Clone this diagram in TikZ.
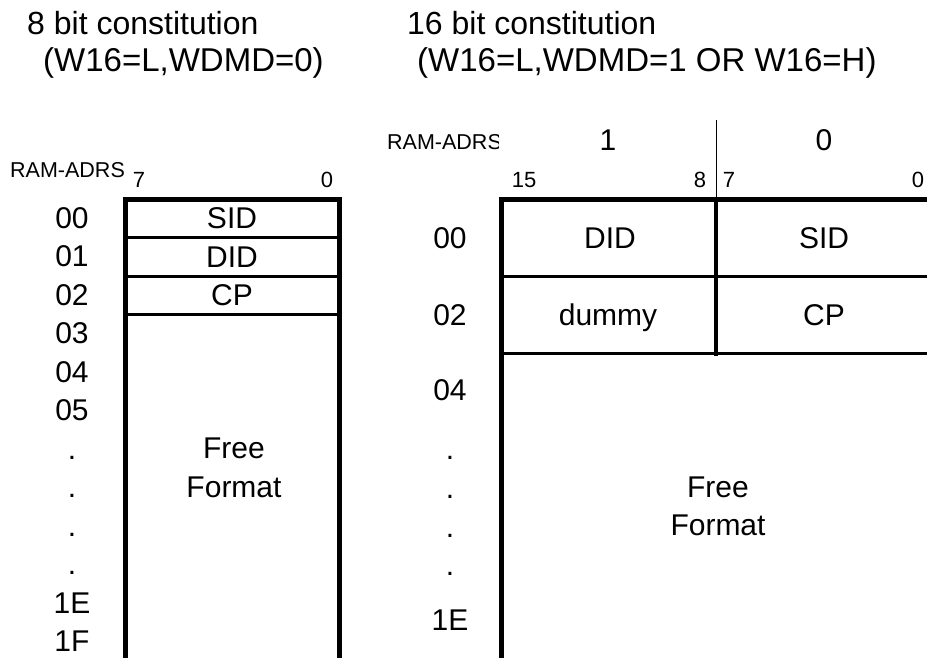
\documentclass[tikz,border=0pt]{standalone}
\usepackage{fontspec}
\setmainfont{Liberation Sans}
\usetikzlibrary{positioning}

\begin{document}
\begin{tikzpicture}[x=1pt, y=-1pt,
    title/.style={anchor=base west, inner sep=0pt, text depth=0pt, font=\fontsize{32}{38}\selectfont},
    subtitle/.style={anchor=base west, inner sep=0pt, text height=24pt, font=\fontsize{33}{38}\selectfont},
    adrs/.style={anchor=base, inner sep=0pt, font=\fontsize{30}{36}\selectfont},
    cell/.style={anchor=base, inner sep=0pt, font=\fontsize{30}{36}\selectfont},
    bitno/.style={anchor=base, inner sep=0pt, font=\fontsize{22}{26}\selectfont},
    small/.style={anchor=base west, inner sep=0pt, font=\fontsize{21.5}{26}\selectfont},
    frame/.style={line width=5pt, line join=miter},
    rowline/.style={line width=3pt}
]
    \useasboundingbox (0,0) rectangle (927,658);
    \clip (0,0) rectangle (927,658);

    % Titles
    \node[title] (t8a) at (27,35) {8 bit constitution};
    \node[subtitle] (t8b) at (43,72) {(W16=L,WDMD=0)};
    \node[title] (t16a) at (407,35) {16 bit constitution};
    \node[subtitle] (t16b) at (417,72) {(W16=L,WDMD=1 OR W16=H)};

    % 8 bit constitution
    \node[small] (ladrs) at (10,178) {RAM-ADRS};
    \node[bitno] (lb7) at (139,188) {7};
    \node[bitno] (lb0) at (327,188) {0};

    \coordinate (ltl) at (125,200);
    \coordinate (ltr) at (339,200);
    \draw[frame] (125,700) -- (ltl) -- (ltr) -- (339,700);
    \foreach \y in {237.5,276.5,314.5}
        \draw[rowline] (125,\y) -- (339,\y);

    \foreach \a [count=\i from 0] in {00,01,02,03,04,05,.,.,.,.,1E,1F}
        \node[adrs] (ladr\i) at (72,228+38.5*\i) {\a};

    \node[cell] (lsid) at (232,229) {SID};
    \node[cell] (ldid) at (232,267) {DID};
    \node[cell] (lcp) at (232,305) {CP};
    \node[cell] (lfree) at (234,458) {Free};
    \node[cell] (lformat) at (234,497) {Format};

    % 16 bit constitution
    \begin{scope}
        \clip (380,110) rectangle (498,170);
        \node[small] (radrs) at (387,150) {RAM-ADRS};
    \end{scope}
    \node[adrs] (rh1) at (608,151) {1};
    \node[adrs] (rh0) at (824,151) {0};
    \node[bitno] (rb15) at (524,188) {15};
    \node[bitno] (rb8) at (700,188) {8};
    \node[bitno] (rb7) at (729,188) {7};
    \node[bitno] (rb0) at (918,188) {0};

    \coordinate (rtl) at (501,200);
    \coordinate (rmid) at (716,200);
    \draw[frame] (501,700) -- (rtl) -- (940,200);
    \draw[line width=1pt] (716,120) -- (rmid);
    \draw[line width=4pt] (rmid) -- (716,356);
    \foreach \y in {276,353}
        \draw[rowline] (501,\y) -- (940,\y);

    \foreach \a/\y [count=\i] in {00/248,02/325,04/400,./459,./498,./537,./575,1E/630}
        \node[adrs] (radr\i) at (450,\y) {\a};

    \node[cell] (rdid) at (610,248) {DID};
    \node[cell] (rsid) at (824,248) {SID};
    \node[cell] (rdummy) at (608,325) {dummy};
    \node[cell] (rcp) at (824,325) {CP};
    \node[cell] (rfree) at (718,497) {Free};
    \node[cell] (rformat) at (718,535) {Format};
\end{tikzpicture}
\end{document}
